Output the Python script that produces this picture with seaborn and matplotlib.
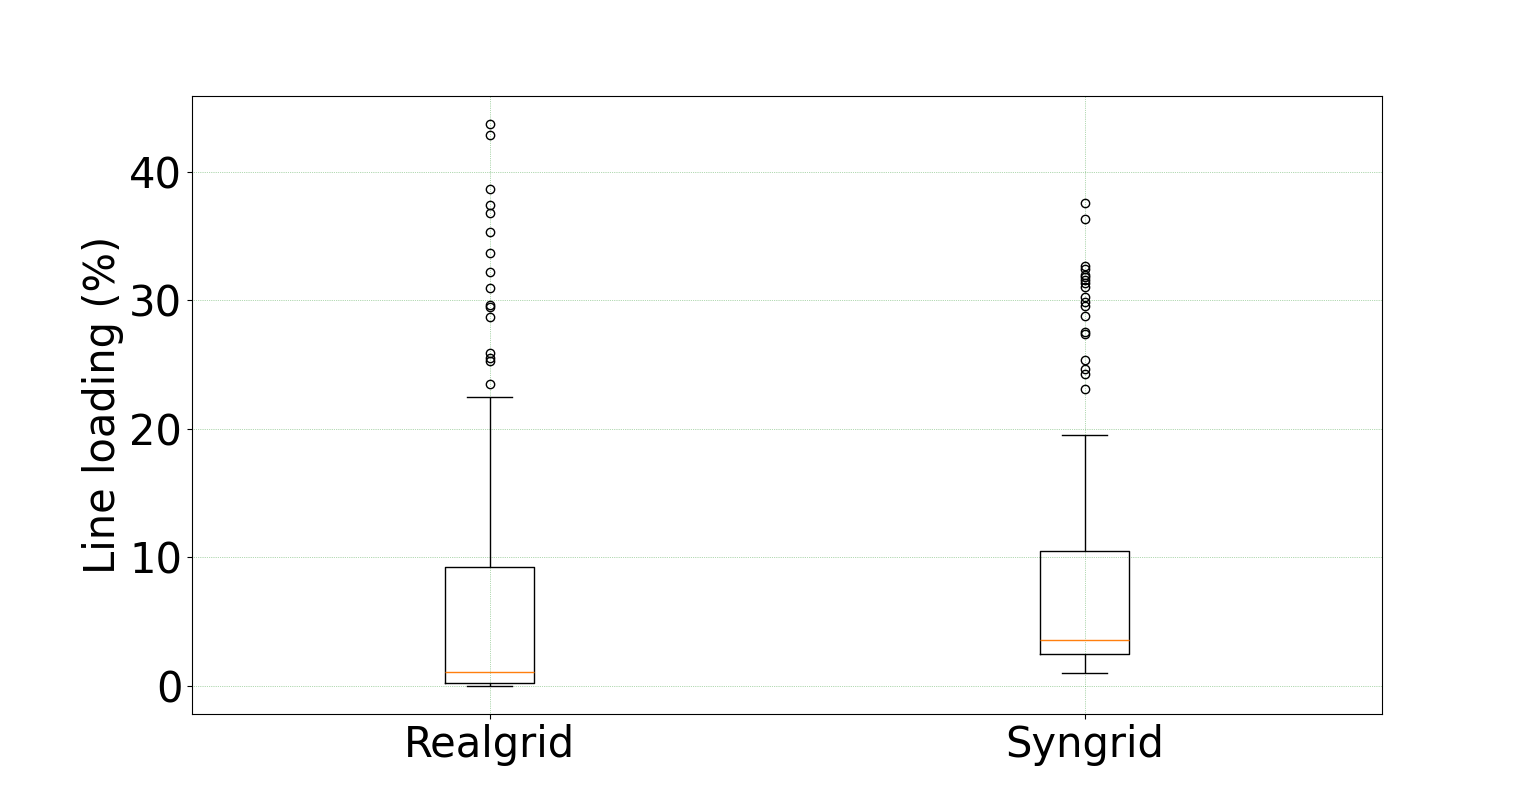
import pandas as pd
import seaborn as sns
import matplotlib.pyplot as plt

# box summary (line loading in %)
grids = ["Realgrid", "Syngrid"]
whisker_low = [0.0, 0.99]
q1 = [0.21, 2.49]
median = [1.03, 3.55]
q3 = [9.24, 10.48]
whisker_high = [22.49, 19.53]
outliers_real = [43.71, 42.88, 38.65, 37.41, 36.79, 35.31, 33.67, 32.19,
                 30.95, 29.65, 29.47, 28.69, 25.89, 25.55, 25.32, 23.48]
outliers_syn = [37.56, 36.32, 32.68, 32.43, 31.98, 31.80, 31.60, 31.34,
                31.07, 30.25, 29.91, 29.57, 28.79, 27.57, 27.37, 25.37,
                24.65, 24.28, 23.09]
outliers = [outliers_real, outliers_syn]

# sample per grid that reproduces the quartiles, whiskers and fliers
rows = []
for i, g in enumerate(grids):
    vals = ([whisker_low[i]] + [q1[i]] * 30 + [median[i]] * 30 + [q3[i]] * 30
            + [whisker_high[i]] + outliers[i])
    rows += [(g, v) for v in vals]
df = pd.DataFrame(rows, columns=["grid", "loading"])

fig, ax = plt.subplots(figsize=(15.36, 8.02), dpi=100)
sns.boxplot(data=df, x="grid", y="loading", order=grids, ax=ax,
            width=0.15, fill=False, color="black", linewidth=1,
            whis=1.5,
            medianprops={"color": "#ff7f0e", "linewidth": 1},
            flierprops={"marker": "o", "markerfacecolor": "none",
                        "markeredgecolor": "black", "markersize": 6})

ax.grid(True, color="green", linestyle=":", linewidth=0.5, alpha=0.6)
ax.set_axisbelow(True)
ax.set_xlim(-0.5, 1.5)
ax.set_xlabel("")
ax.set_ylabel("Line loading (%)", fontsize=30)
ax.tick_params(axis="both", labelsize=30)
for s in ax.spines.values():
    s.set_color("black")

plt.savefig("out.png", dpi=100)
plt.close()
